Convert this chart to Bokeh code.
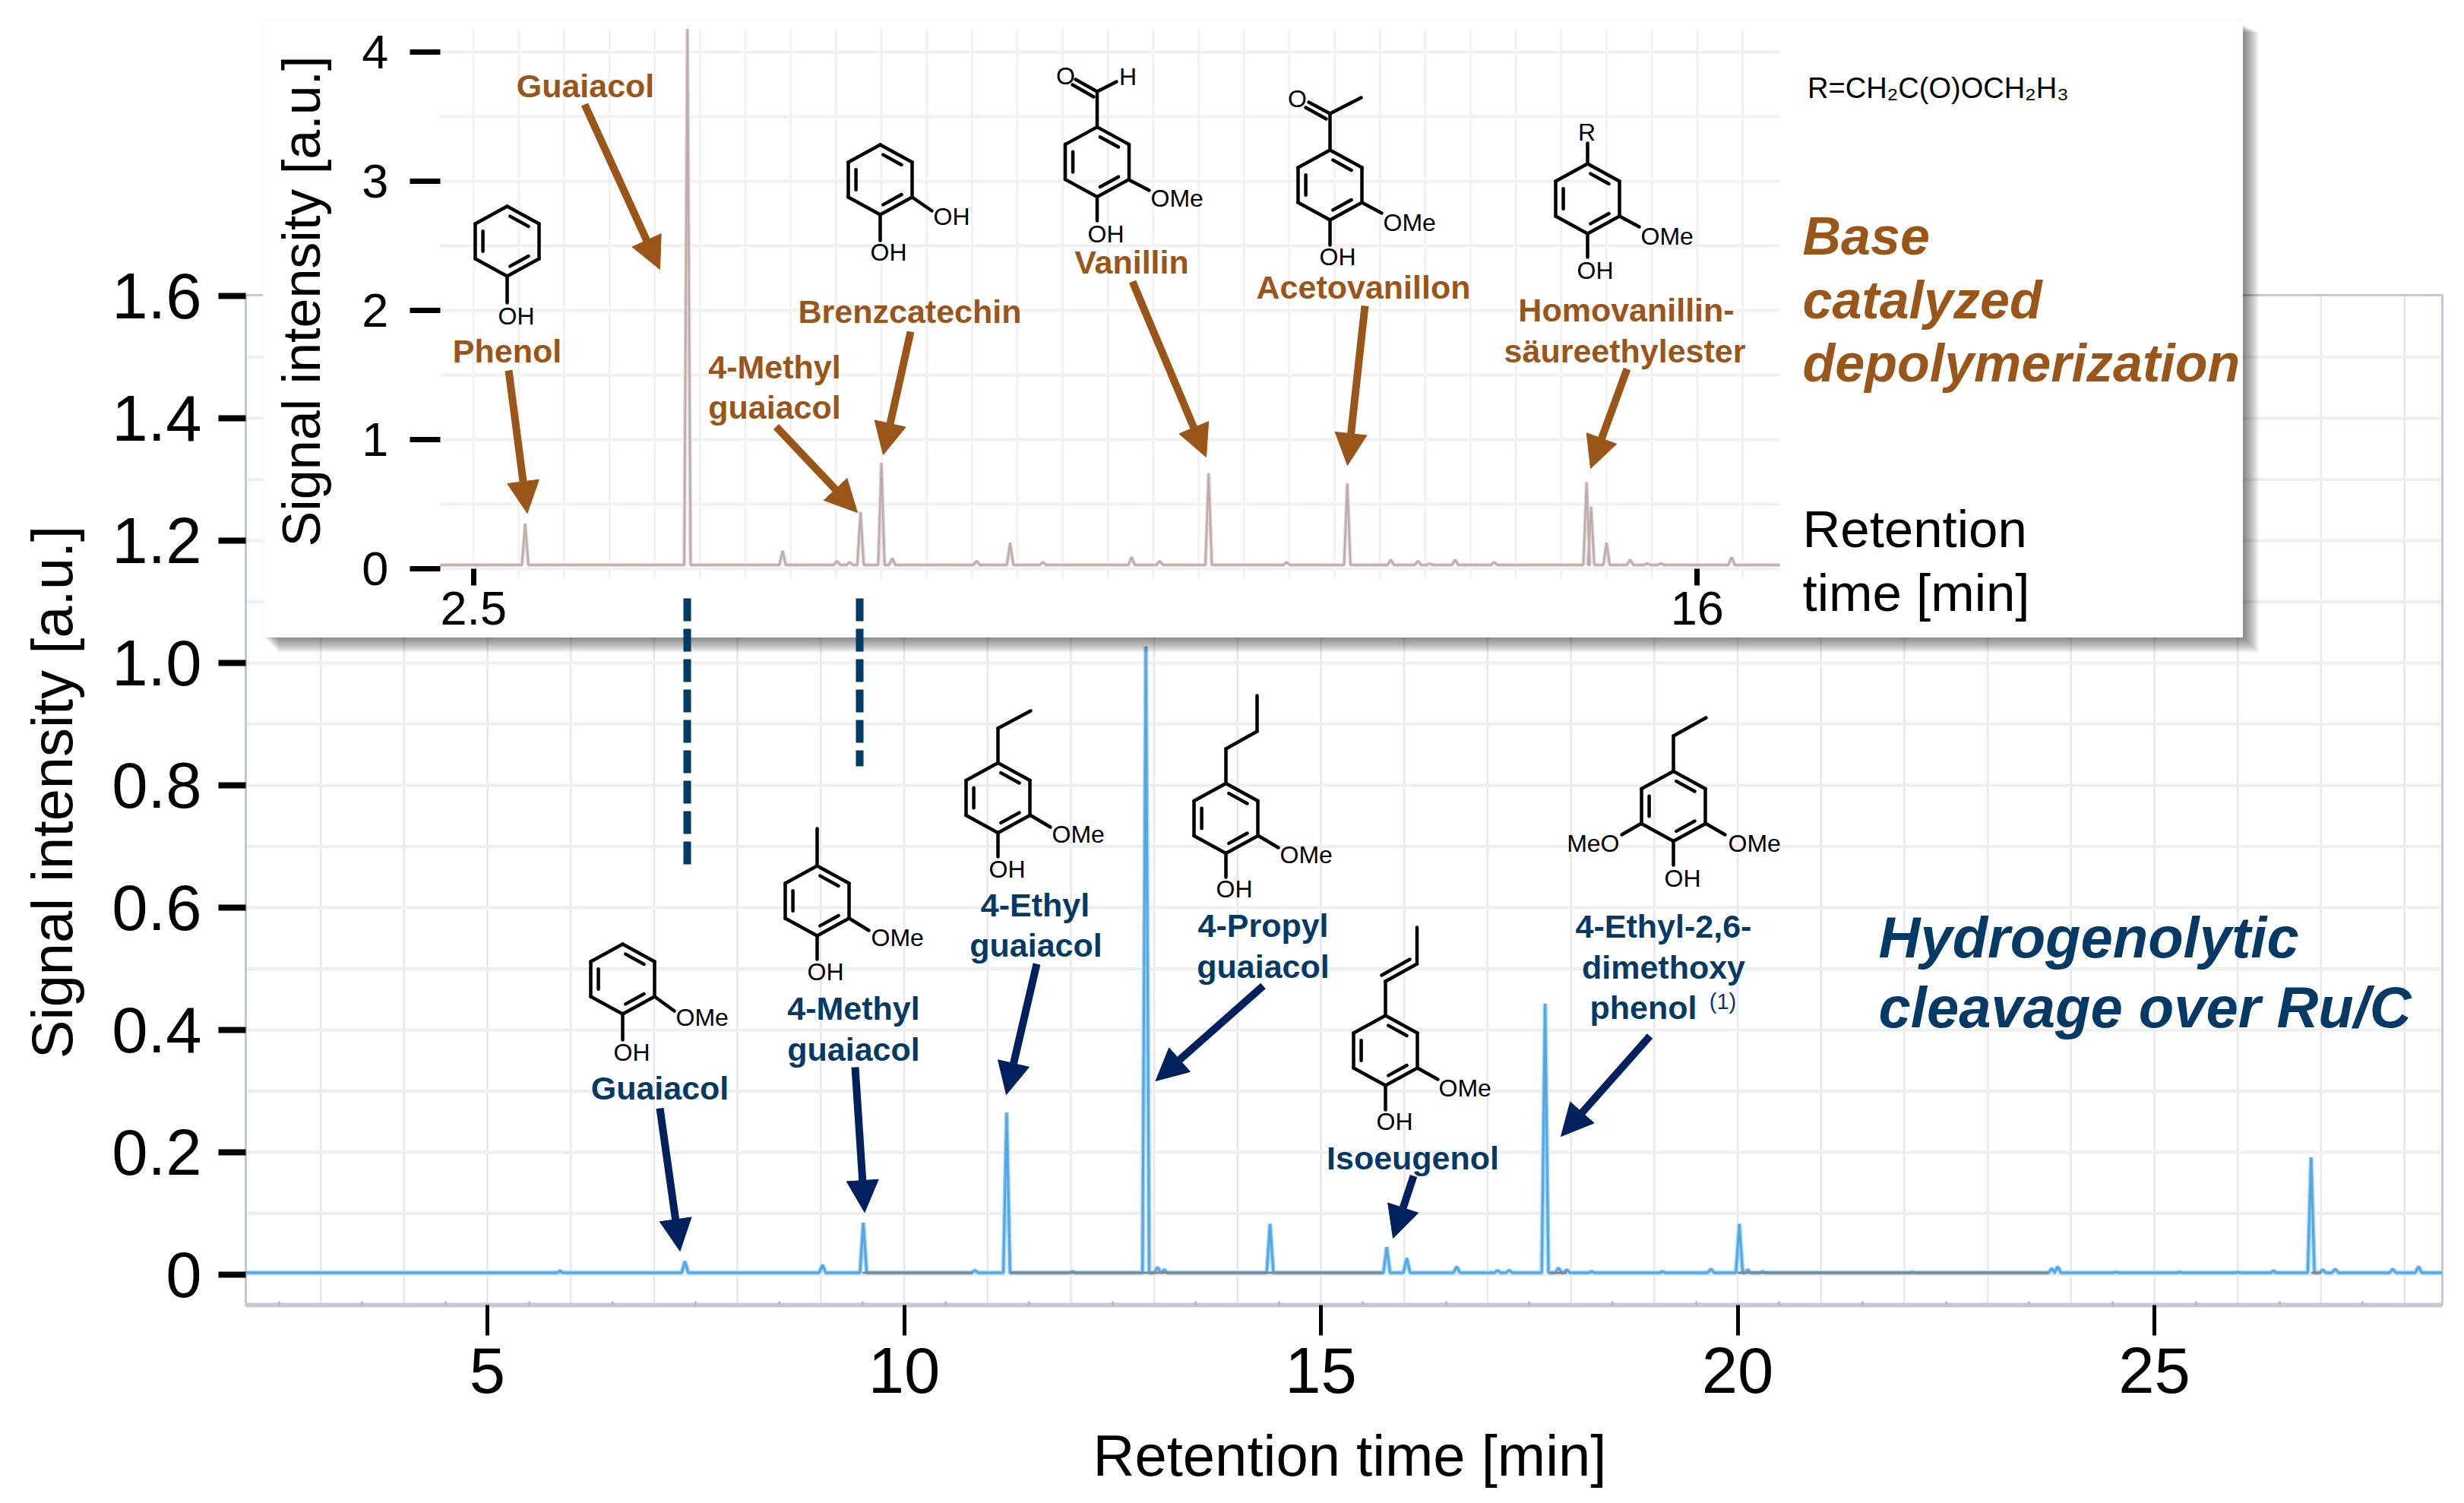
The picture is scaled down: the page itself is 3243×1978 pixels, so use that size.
from math import pi
from bokeh.embed import file_html
from bokeh.resources import INLINE
from bokeh.plotting import figure
from bokeh.core.properties import value
from bokeh.models import (Range1d, LinearAxis, FixedTicker, ColumnDataSource,
                          Arrow, NormalHead)

# ---------- data ----------
main_rt = [5.87, 7.37, 9.02, 9.51, 10.85, 11.23, 12.02, 12.90, 13.04, 13.12, 14.39, 15.79, 16.03,
           16.63, 17.12, 17.26, 17.69, 17.85, 17.95, 18.25, 19.10, 19.68, 20.02, 20.12, 20.30, 22.10,
           23.77, 23.84, 24.54, 25.30, 26.00, 26.43, 26.88, 27.02, 27.17, 27.86, 28.17]
main_h = [0.006, 0.022, 0.016, 0.085, 0.007, 0.265, 0.005, 1.027, 0.012, 0.008, 0.083, 0.045, 0.027,
          0.013, 0.007, 0.007, 0.443, 0.011, 0.008, 0.005, 0.005, 0.009, 0.083, 0.008, 0.005, 0.004,
          0.010, 0.013, 0.004, 0.004, 0.004, 0.006, 0.192, 0.008, 0.009, 0.009, 0.013]
main_base = 0.003
main_gray_from = [9.50, 11.27, 17.75, 20.00, 26.88]
main_gray_to = [10.82, 15.74, 17.95, 23.72, 27.00]

inset_rt = [3.07, 4.86, 5.91, 6.51, 6.65, 6.77, 7.00, 7.12, 8.05, 8.42, 8.78, 9.76, 10.07, 10.61, 11.47,
            12.14, 12.62, 12.92, 13.05, 13.33, 13.76, 14.78, 14.83, 15.00, 15.26, 15.45, 15.60, 16.38]
inset_h = [0.35, 4.18, 0.14, 0.06, 0.05, 0.44, 0.82, 0.08, 0.06, 0.20, 0.05, 0.09, 0.06, 0.74, 0.05,
           0.66, 0.07, 0.06, 0.04, 0.07, 0.05, 0.67, 0.48, 0.20, 0.07, 0.04, 0.04, 0.09]
inset_base = 0.03

main_x_ticks = [5, 10, 15, 20, 25]
main_y_ticks = [0, 0.2, 0.4, 0.6, 0.8, 1.0, 1.2, 1.4, 1.6]
main_y_labels = ["0", "0.2", "0.4", "0.6", "0.8", "1.0", "1.2", "1.4", "1.6"]
inset_x_ticks = [2.5, 16]
inset_x_labels = ["2.5", "16"]
inset_y_ticks = [0, 1, 2, 3, 4]

x_title = "Retention time [min]"
y_title = "Signal intensity [a.u.]"

# ---------- page calibration (reference pixels) ----------
W, H = 3243, 1978
FONT = "Liberation Sans"
BROWN, NAVY_TXT, NAVY_ARR, DASH = "#9a5518", "#063a66", "#00205e", "#003a66"

def mx(px): return 5 + (px - 641) / 109.7
def my(px): return (1677 - px) / 805
def ix(px): return 2.5 + (px - 622.7) / 119.3
def iy(px): return (748 - px) / 170

PW, PH = W - 16, H - 16
p = figure(width=PW, height=PH, output_backend="svg", toolbar_location=None,
           x_range=Range1d(0, PW), y_range=Range1d(PH, 0),
           x_axis_type=None, y_axis_type=None, min_border=0, outline_line_color=None,
           background_fill_color="white", border_fill_color="white")
p.extra_x_ranges = {"main": Range1d(mx(0), mx(PW)), "ins": Range1d(ix(0), ix(PW))}
p.extra_y_ranges = {"main": Range1d(my(PH), my(0)), "ins": Range1d(iy(PH), iy(0))}

def peaks_line(rt, h, base, hw, x0, x1):
    xs, ys = [x0], [base]
    for r, v in zip(rt, h):
        xs += [r - hw, r, r + hw]
        ys += [base, v, base]
    xs.append(x1); ys.append(base)
    return xs, ys

# ---------- main chart ----------
mxl, mxr, mybot, mytop = mx(323), mx(3214), my(1717), my(388)
gx = list(range(3, 29))
p.segment(x0=gx, x1=gx, y0=[mybot] * len(gx), y1=[mytop] * len(gx), x_range_name="main", y_range_name="main",
          line_color="#e8e8ec", line_width=2.5)
gy = [i / 10 for i in range(0, 16)]
p.segment(x0=[mxl] * len(gy), x1=[mxr] * len(gy), y0=gy, y1=gy, x_range_name="main", y_range_name="main",
          line_color="#efefef", line_width=4)
p.quad(left=[mxl], right=[mxr], top=[mytop], bottom=[mybot], x_range_name="main", y_range_name="main",
       fill_color=None, line_color="#c3c7d8", line_width=3)
p.line([mxl, mxr], [mybot, mybot], x_range_name="main", y_range_name="main", line_color="#c6c8d4", line_width=6)

mlx, mly = peaks_line(main_rt, main_h, main_base, 0.04, mxl, mxr)
p.line(mlx, mly, x_range_name="main", y_range_name="main", line_color="#a6d4f2", line_width=6)
p.line(mlx, mly, x_range_name="main", y_range_name="main", line_color="#52a8e4", line_width=3)
p.segment(x0=main_gray_from, x1=main_gray_to, y0=[main_base] * 5, y1=[main_base] * 5,
          x_range_name="main", y_range_name="main", line_color="#7f868c", line_width=3)

xax = LinearAxis(x_range_name="main", fixed_location=1717,
                 ticker=FixedTicker(ticks=main_x_ticks, minor_ticks=[i + 0.5 for i in range(2, 28)]),
                 major_label_text_font=FONT, major_label_text_font_size="85px", major_label_text_color="black",
                 major_label_standoff=16, major_tick_in=0, major_tick_out=40, major_tick_line_width=5,
                 major_tick_line_color="black", minor_tick_in=5, minor_tick_out=0, minor_tick_line_color="#a8acb8",
                 minor_tick_line_width=2, axis_line_color=None)
p.add_layout(xax, "below")
yax = LinearAxis(y_range_name="main", fixed_location=323,
                 ticker=FixedTicker(ticks=main_y_ticks, minor_ticks=[]),
                 major_label_overrides={t: s for t, s in zip(main_y_ticks, main_y_labels)},
                 major_label_text_font=FONT, major_label_text_font_size="85px", major_label_text_color="black",
                 major_label_standoff=22, major_tick_in=0, major_tick_out=36, major_tick_line_width=8,
                 major_tick_line_color="black", minor_tick_line_color=None, axis_line_color=None)
p.add_layout(yax, "left")

# ---------- inset panel with shadow ----------
for i in range(10):
    p.quad(left=[366 - i * 2], right=[2972 - i * 2], top=[42 - i], bottom=[858 - i * 2],
           fill_color="black", fill_alpha=0.055, line_color=None)
p.quad(left=[346], right=[2951], top=[25], bottom=[838], fill_color="white", line_color="#f7f7f7", line_width=1)

ixl, ixr, iybot, iytop = ix(578.7), ix(2342), iy(761), iy(38)
gx2 = [2.5 + 0.5 * i for i in range(0, 29)]
p.segment(x0=gx2, x1=gx2, y0=[iybot] * len(gx2), y1=[iytop] * len(gx2), x_range_name="ins", y_range_name="ins",
          line_color="#f3efef", line_width=2.5)
gy2 = [0.5 * i for i in range(0, 9)]
p.segment(x0=[ixl] * len(gy2), x1=[ixr] * len(gy2), y0=gy2, y1=gy2, x_range_name="ins", y_range_name="ins",
          line_color="#f4f0f0", line_width=4)
ilx, ily = peaks_line(inset_rt, inset_h, inset_base, 0.035, ixl, ixr)
p.line(ilx, ily, x_range_name="ins", y_range_name="ins", line_color="#e2d8d6", line_width=5)
p.line(ilx, ily, x_range_name="ins", y_range_name="ins", line_color="#bfaca8", line_width=2.5)

ixax = LinearAxis(x_range_name="ins", fixed_location=748,
                  ticker=FixedTicker(ticks=inset_x_ticks, minor_ticks=[]),
                  major_label_overrides={t: s for t, s in zip(inset_x_ticks, inset_x_labels)},
                  major_label_text_font=FONT, major_label_text_font_size="63px", major_label_text_color="black",
                  major_label_standoff=8, major_tick_in=0, major_tick_out=22, major_tick_line_width=7,
                  major_tick_line_color="black", minor_tick_line_color=None, axis_line_color=None)
p.add_layout(ixax, "below")
iyax = LinearAxis(y_range_name="ins", fixed_location=578.7,
                  ticker=FixedTicker(ticks=inset_y_ticks, minor_ticks=[]),
                  major_label_text_font=FONT, major_label_text_font_size="63px", major_label_text_color="black",
                  major_label_standoff=28, major_tick_in=0, major_tick_out=40, major_tick_line_width=7,
                  major_tick_line_color="black", minor_tick_line_color=None, axis_line_color=None)
p.add_layout(iyax, "left")

# ---------- dashed connectors ----------
p.segment(x0=[904, 1131], x1=[904, 1131], y0=[787, 787], y1=[1145, 1008], line_color=DASH,
          line_width=10, line_dash="30 10")

# ---------- molecules ----------
RX, RY = 42, 46
def ring(cx, cy):
    v = [(cx, cy - RY), (cx + RX, cy - RY / 2), (cx + RX, cy + RY / 2),
         (cx, cy + RY), (cx - RX, cy + RY / 2), (cx - RX, cy - RY / 2)]
    segs = [(v[i][0], v[i][1], v[(i + 1) % 6][0], v[(i + 1) % 6][1]) for i in range(6)]
    for i in (0, 2, 4):
        a, b = v[i], v[(i + 1) % 6]
        ax = a[0] + (b[0] - a[0]) * 0.12; ay = a[1] + (b[1] - a[1]) * 0.12
        bx = a[0] + (b[0] - a[0]) * 0.88; by = a[1] + (b[1] - a[1]) * 0.88
        segs.append((cx + (ax - cx) * 0.76, cy + (ay - cy) * 0.76, cx + (bx - cx) * 0.76, cy + (by - cy) * 0.76))
    return segs

mol_rings = [(667, 317), (1158, 236), (1443.5, 212.6), (1750, 243), (2089, 261),
             (819, 1288), (1075, 1185), (1313, 1049.5), (1613, 1076.5), (1823, 1382), (2202, 1060.5)]
mol_bonds = [
    # phenol
    (667, 363, 667, 398),
    # catechol
    (1200, 259, 1226, 277), (1158, 282, 1158, 316),
    # vanillin
    (1443.5, 167, 1443.5, 120), (1443.5, 120, 1415, 104), (1439, 127, 1411, 111), (1443.5, 120, 1469, 107),
    (1485, 236, 1512, 250), (1443.5, 258, 1443.5, 290),
    # acetovanillon
    (1750, 197, 1750, 149), (1750, 149, 1722, 134), (1745, 156, 1718, 141), (1750, 149, 1791, 128),
    (1792, 266, 1818, 280), (1750, 289, 1750, 322),
    # homovanillic ester
    (2089, 215, 2089, 188), (2131, 284, 2157, 298), (2089, 307, 2089, 338),
    # guaiacol
    (861, 1311, 887, 1330), (819, 1334, 819, 1368),
    # 4-methyl guaiacol
    (1075, 1139, 1075, 1090), (1117, 1208, 1143, 1224), (1075, 1231, 1075, 1262),
    # 4-ethyl guaiacol
    (1313, 1003, 1313, 958), (1313, 958, 1356, 935), (1355, 1072, 1382, 1088), (1313, 1095, 1313, 1127),
    # 4-propyl guaiacol
    (1613, 1030, 1613, 985), (1613, 985, 1654, 962), (1654, 962, 1654, 915), (1655, 1099, 1682, 1115),
    (1613, 1122, 1613, 1154),
    # isoeugenol
    (1823, 1336, 1823, 1291), (1823, 1291, 1864.5, 1268), (1818, 1283, 1855, 1262), (1864.5, 1268, 1864.5, 1220),
    (1865, 1405, 1892, 1420), (1823, 1428, 1823, 1460),
    # 4-ethyl-2,6-dimethoxyphenol
    (2202, 1014, 2202, 968), (2202, 968, 2245, 944), (2244, 1083, 2270, 1098), (2160, 1083, 2134, 1098),
    (2202, 1106, 2202, 1138),
]
allsegs = list(mol_bonds)
for c in mol_rings:
    allsegs += ring(*c)
p.segment(x0=[s[0] for s in allsegs], y0=[s[1] for s in allsegs],
          x1=[s[2] for s in allsegs], y1=[s[3] for s in allsegs],
          line_color="black", line_width=4.5, line_cap="round")

def labels(items, size, color, style="normal", align="center", baseline="middle", angle=0):
    p.text(x=[i[0] for i in items], y=[i[1] for i in items], text=[i[2] for i in items],
           text_font=value(FONT), text_font_size=value(f"{size}px"), text_font_style=style,
           text_color=color, text_align=align, text_baseline=baseline, angle=angle)

labels([(679, 415, "OH"), (1169, 331, "OH"), (1455, 307, "OH"), (1760, 337, "OH"), (2099, 355, "OH"),
        (831, 1384, "OH"), (1086, 1278, "OH"), (1325, 1143, "OH"), (1624, 1169, "OH"), (1835, 1475, "OH"),
        (2214, 1155, "OH"), (1402, 99, "O"), (1484, 100, "H"), (1707, 129, "O"), (2088, 173, "R")], 32, "black")
labels([(1228, 284, "OH"), (1514, 260, "OMe"), (1820, 292, "OMe"), (2159, 310, "OMe"), (889, 1338, "OMe"),
        (1146, 1233, "OMe"), (1384, 1097, "OMe"), (1684, 1124, "OMe"), (1893, 1431, "OMe"), (2274, 1109, "OMe")],
       32, "black", align="left")
labels([(2131, 1109, "MeO")], 32, "black", align="right")
labels([(2378.6, 115, "R=CH₂C(O)OCH₂H₃")], 38, "black", align="left")

# ---------- axis titles ----------
labels([(1776, 1915, x_title)], 76, "black")
labels([(68, 1042, y_title)], 76, "black", angle=pi / 2)
labels([(396, 396, y_title)], 70, "black", angle=pi / 2)

# ---------- compound names ----------
labels([(770, 112, "Guaiacol"), (667, 461, "Phenol"), (1197, 409, "Brenzcatechin"), (1019, 482, "4-Methyl"),
        (1019, 535, "guaiacol"), (1489, 344, "Vanillin"), (1794, 377, "Acetovanillon"),
        (2140, 407, "Homovanillin-"), (2138, 461, "säureethylester")], 43, BROWN, "bold")
labels([(868, 1431, "Guaiacol"), (1123, 1326, "4-Methyl"), (1123, 1380, "guaiacol"), (1362, 1190, "4-Ethyl"),
        (1363, 1243, "guaiacol"), (1662, 1217, "4-Propyl"), (1662, 1271, "guaiacol"), (1859, 1523, "Isoeugenol"),
        (2189, 1218, "4-Ethyl-2,6-"), (2189, 1272, "dimethoxy")], 43, NAVY_TXT, "bold")
labels([(2092, 1325, "phenol")], 43, NAVY_TXT, "bold", align="left")
labels([(2267, 1317, "(1)")], 29, NAVY_TXT)

labels([(2372, 310, "Base"), (2372, 394, "catalyzed"), (2372, 477, "depolymerization")], 70, BROWN, "bold italic",
       align="left")
labels([(2372, 696, "Retention"), (2372, 780, "time [min]")], 69, "black", align="left")
labels([(2472, 1233, "Hydrogenolytic"), (2472, 1325, "cleavage over Ru/C")], 76, NAVY_TXT, "bold italic", align="left")

# ---------- arrows ----------
def arrows(rows, color):
    src = ColumnDataSource(dict(x0=[r[0] for r in rows], y0=[r[1] for r in rows],
                                x1=[r[2] for r in rows], y1=[r[3] for r in rows]))
    p.add_layout(Arrow(source=src, x_start="x0", y_start="y0", x_end="x1", y_end="y1",
                       line_color=color, line_width=10,
                       end=NormalHead(size=42, fill_color=color, line_color=color, line_width=1)))

arrows([(769, 137, 868, 354), (669, 487, 693.5, 675), (1021, 561, 1128, 674), (1198, 436, 1162, 598),
        (1490, 370, 1587, 601), (1796, 402, 1773, 612), (2141, 485, 2093, 616)], BROWN)
arrows([(868, 1458, 894.5, 1646), (1125, 1404, 1137.5, 1595), (1364, 1268, 1324, 1440),
        (1662, 1297, 1520.6, 1422), (1860, 1547, 1833, 1629), (2171, 1363, 2054, 1495)], NAVY_ARR)

open("out.html", "w").write(file_html(p, INLINE))
